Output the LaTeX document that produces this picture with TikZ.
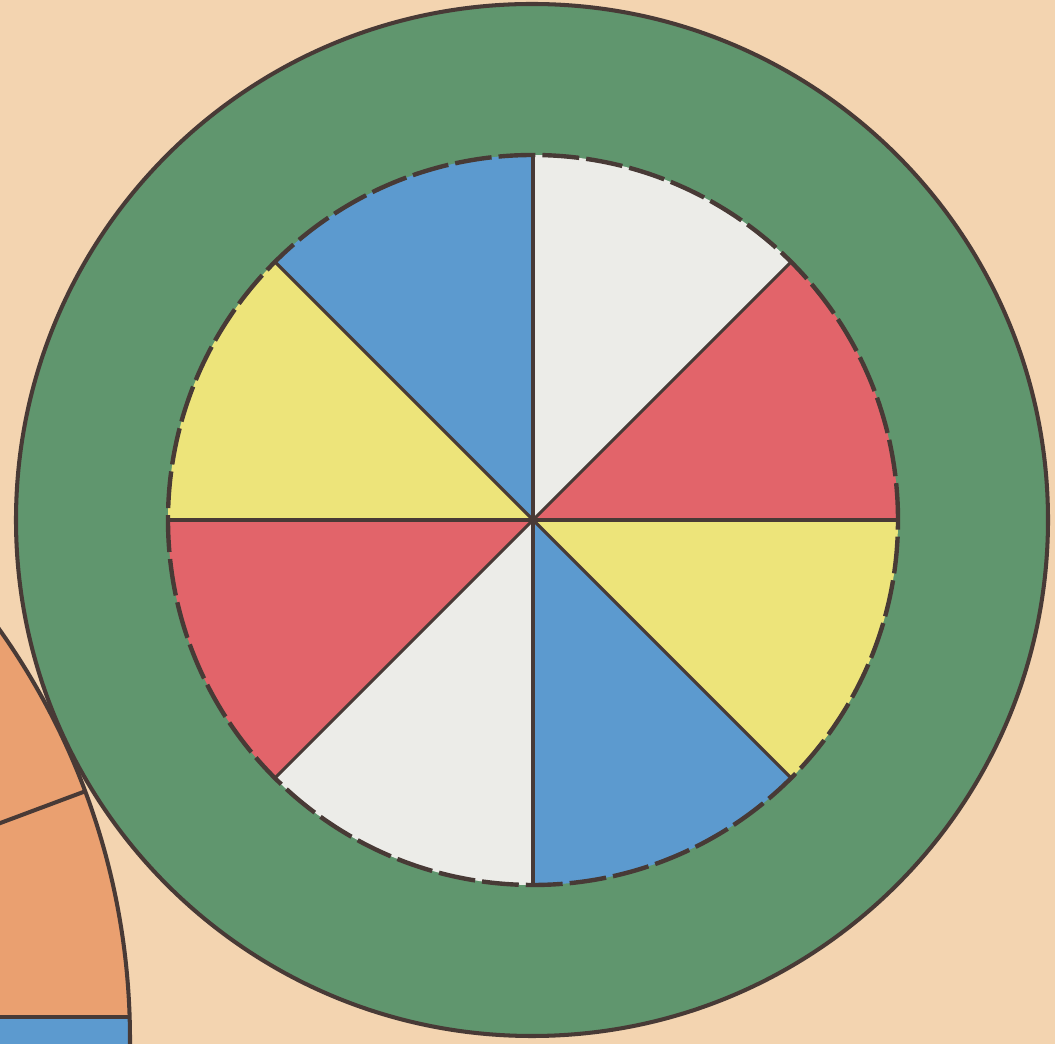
\documentclass[tikz,border=0pt]{standalone}
\usepackage{xcolor}
\usetikzlibrary{calc}
\definecolor{fondo}{RGB}{243,212,176}
\definecolor{verde}{RGB}{96,150,110}
\definecolor{azul}{RGB}{92,154,207}
\definecolor{blanco}{RGB}{236,236,232}
\definecolor{rojo}{RGB}{226,100,106}
\definecolor{amarillo}{RGB}{237,228,122}
\definecolor{naranja}{RGB}{234,160,112}
\definecolor{tinta}{RGB}{72,58,54}
\tikzset{
  borde/.style={draw=tinta,line width=2.3pt},
  radio/.style={draw=tinta,line width=1.8pt},
  punteado/.style={draw=tinta,line width=2.5pt,dash pattern=on 21pt off 4pt}
}

\begin{document}
\begin{tikzpicture}[x=0.02cm,y=0.02cm]
\useasboundingbox (0,0) rectangle (1055,1044);
\fill[fondo] (0,0) rectangle (1055,1044);
\clip (0,0) rectangle (1055,1044);
% disco naranja cortado abajo a la izquierda
\coordinate (C) at (-580,4);
\begin{scope}
  \clip (C) circle (710);
  \fill[naranja] (-10,27) rectangle (200,700);
  \fill[azul] (-10,-10) rectangle (200,27);
  \draw[borde] (-10,27) -- (200,27);
\end{scope}
\draw[borde] (C) circle (710);
\draw[borde] (C) -- ($(C)+(20.5:710)$);
% rueda
\coordinate (O) at (532,524);
\draw[borde,fill=verde] (O) circle (516);
\coordinate (M) at (533,524);
\foreach \a/\c in {90/blanco,45/rojo,0/amarillo,-45/azul,-90/blanco,-135/rojo,180/amarillo,135/azul}
  \fill[\c] (M) -- ++(\a:365) arc[start angle=\a,delta angle=-45,radius=365] -- cycle;
\foreach \a in {0,45,...,315}
  \draw[radio] (M) -- ++(\a:365);
\draw[punteado] (M) circle (365);
\end{tikzpicture}
\end{document}
